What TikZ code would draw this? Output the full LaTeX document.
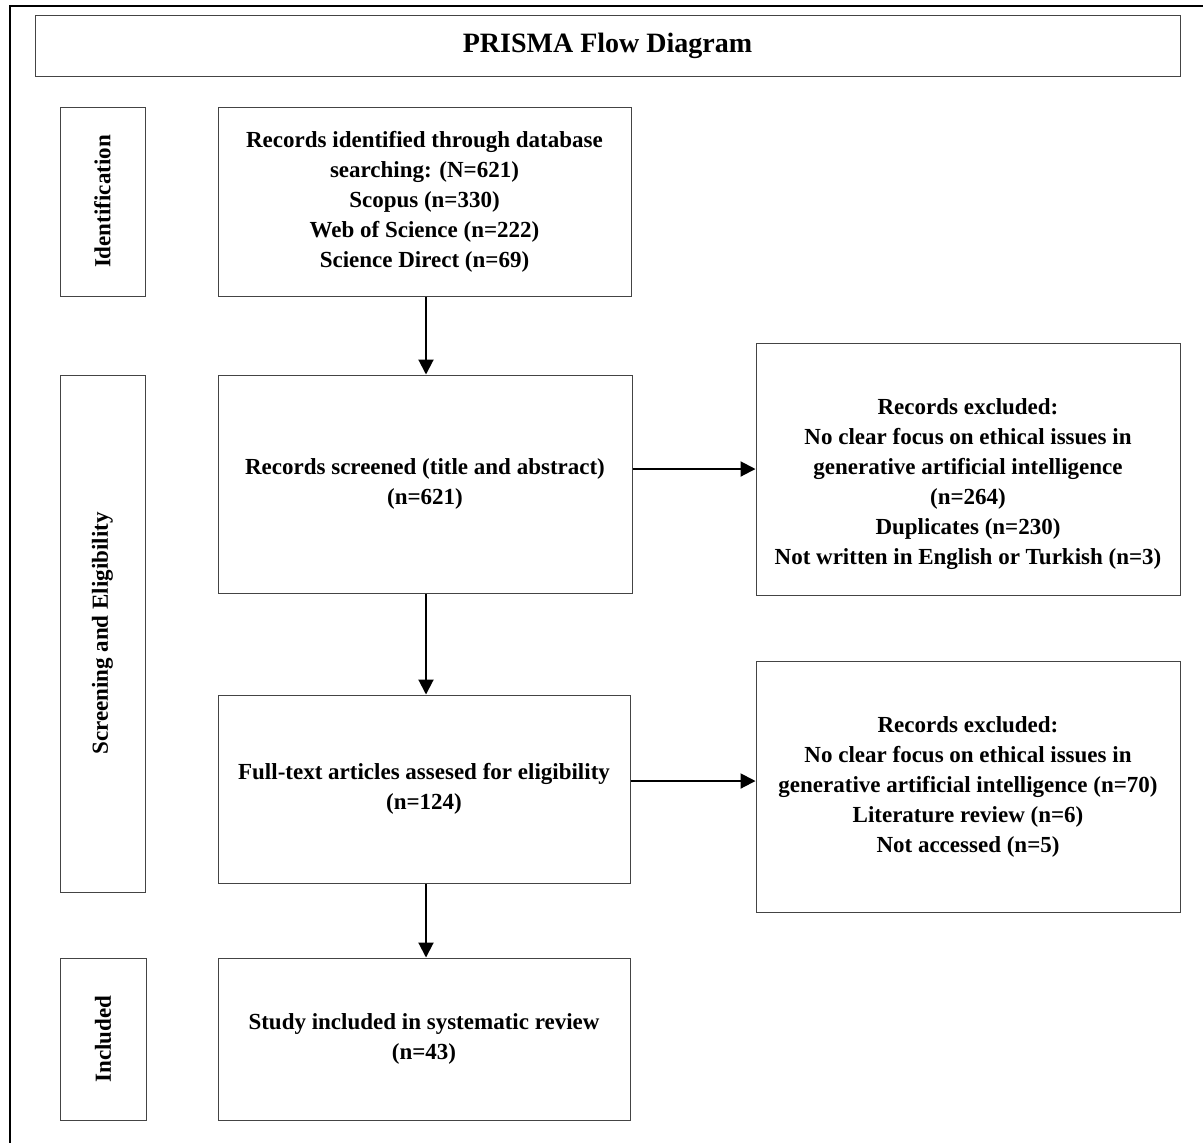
\documentclass[tikz,border=0pt]{standalone}
\usepackage{fontspec}
\setmainfont{Liberation Serif}
\usepackage{tikz}
\usetikzlibrary{arrows.meta,positioning}
\definecolor{frame}{HTML}{444444}

\begin{document}
\begin{tikzpicture}[
  x=0.5pt,y=-0.5pt,
  font=\fontsize{11.5}{15}\selectfont\bfseries,
  box/.style={draw=frame,line width=0.5pt,inner sep=0pt,align=center},
  side/.style={box,rotate=90},
  arr/.style={-{Triangle[length=7.5pt,width=7.5pt]},line width=1pt,black}
]
\useasboundingbox (0,0) rectangle (1203,1142);
% outer frame (clipped at right and bottom)
\draw[line width=1pt] (10,1150) -- (10,6) -- (1210,6);
\node[box,minimum width=572.5pt,minimum height=30.5pt,font=\fontsize{14}{16}\selectfont\bfseries] (title) at (607.5,45.5) {PRISMA Flow Diagram};
% phase labels
\node[side,minimum width=94.5pt,minimum height=42.5pt] (idside) at (102.5,201.5) {Identification};
\node[side,minimum width=258.5pt,minimum height=42.5pt] (scrside) at (102.5,633.5) {Screening and Eligibility};
\node[side,minimum width=81pt,minimum height=43pt] (incside) at (103,1039) {Included};
% main flow
\node[box,minimum width=206.5pt,minimum height=94.5pt] (ident) at (424.5,201.5) {Records identified through database\\searching: (N=621)\\Scopus (n=330)\\Web of Science (n=222)\\Science Direct (n=69)};
\node[box,minimum width=207pt,minimum height=109pt] (screen) at (425,484) {Records screened (title and abstract)\\(n=621)};
\node[box,minimum width=206pt,minimum height=94pt] (full) at (424,789) {Full-text articles assesed for eligibility\\(n=124)};
\node[box,minimum width=206pt,minimum height=81pt] (incl) at (424,1039) {Study included in systematic review\\(n=43)};
% exclusions (text of the first one sits a little low)
\node[box,minimum width=212pt,minimum height=126pt,
  label={[align=center,yshift=-7.5pt]center:Records excluded:\\No clear focus on ethical issues in\\generative artificial intelligence\\(n=264)\\Duplicates (n=230)\\Not written in English or Turkish (n=3)}] (excl1) at (968,469) {};
\node[box,minimum width=212pt,minimum height=125.5pt] (excl2) at (968,786.5) {Records excluded:\\No clear focus on ethical issues in\\generative artificial intelligence (n=70)\\Literature review (n=6)\\Not accessed (n=5)};
\coordinate (a1) at (426,0);
\draw[arr] (ident.south -| a1) -- (screen.north -| a1);
\draw[arr] (screen.south -| a1) -- (full.north -| a1);
\draw[arr] (full.south -| a1) -- (incl.north -| a1);
\draw[arr] (screen.east |- excl1.west) -- (excl1.west);
\coordinate (a2) at (0,781);
\draw[arr] (full.east |- a2) -- (excl2.west |- a2);
\end{tikzpicture}
\end{document}
